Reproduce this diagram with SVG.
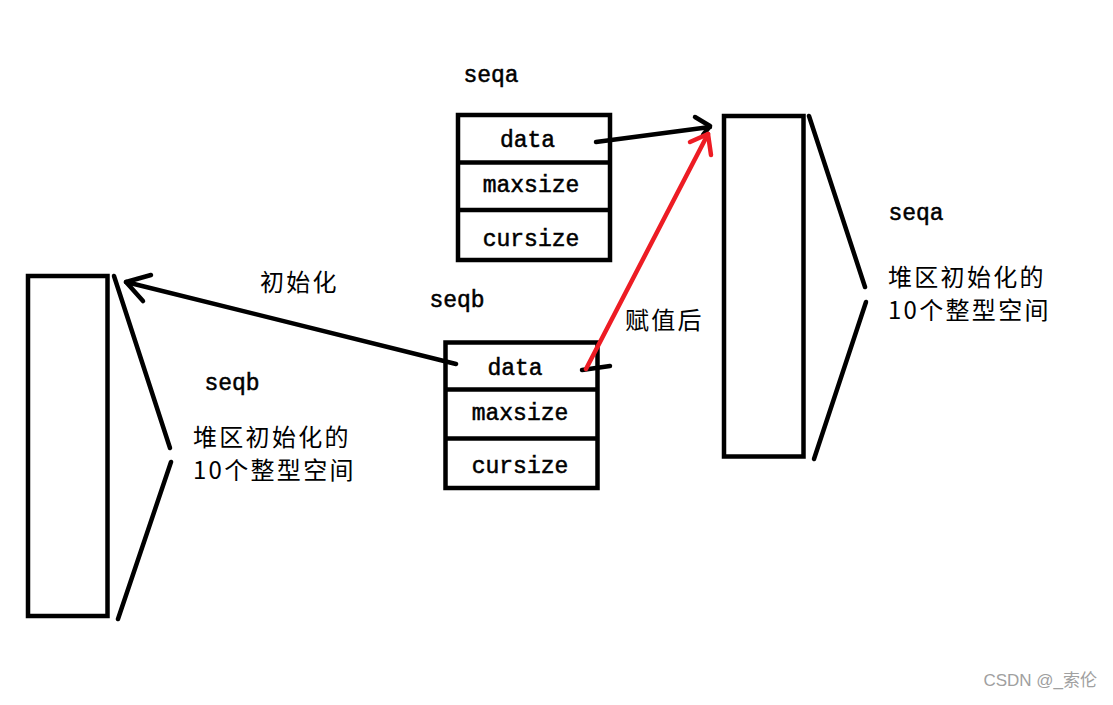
<svg xmlns="http://www.w3.org/2000/svg" width="1113" height="705" viewBox="0 0 1113 705">
<style>
.box{fill:#fff;stroke:#000;stroke-width:4.5}
.div{stroke:#000;stroke-width:4.5}
.ln{fill:none;stroke:#000;stroke-width:4.5;stroke-linecap:round;stroke-linejoin:round}
.red{fill:none;stroke:#ED1C24;stroke-width:4.5;stroke-linecap:round;stroke-linejoin:round}
.mono{font-family:"Liberation Mono",monospace;font-size:23px;fill:#000;stroke:#000;stroke-width:0.5}
.cjk{font-family:"Noto Sans CJK SC",sans-serif;font-size:24px;letter-spacing:2.3px;fill:#000}
.wm{font-family:"Liberation Sans","Noto Sans CJK SC",sans-serif;font-size:17px;fill:#a0a0a0}
</style>
<rect width="1113" height="705" fill="#fff"/>
<g id="seqa-struct">
<rect class="box" x="458" y="115" width="152" height="145"/>
<line class="div" x1="458" y1="162.5" x2="610" y2="162.5"/>
<line class="div" x1="458" y1="210" x2="610" y2="210"/>
<text class="mono" x="527.5" y="147" text-anchor="middle">data</text>
<text class="mono" x="531" y="192" text-anchor="middle">maxsize</text>
<text class="mono" x="531" y="246" text-anchor="middle">cursize</text>
<text class="mono" x="491" y="82" text-anchor="middle" font-size="22">seqa</text>
</g>
<g id="seqb-struct">
<rect class="box" x="445.5" y="342.5" width="152" height="145.5"/>
<line class="div" x1="445.5" y1="389.5" x2="597.5" y2="389.5"/>
<line class="div" x1="445.5" y1="438.5" x2="597.5" y2="438.5"/>
<text class="mono" x="515" y="375" text-anchor="middle">data</text>
<text class="mono" x="520" y="420" text-anchor="middle">maxsize</text>
<text class="mono" x="520" y="473" text-anchor="middle">cursize</text>
<text class="mono" x="457" y="307" text-anchor="middle" font-size="22">seqb</text>
</g>
<g id="heap-b">
<rect class="box" x="28" y="276" width="79.5" height="340"/>
<polyline class="ln" points="114,276 170,448"/>
<polyline class="ln" points="171,462 118,619"/>
<text class="mono" x="232" y="390" text-anchor="middle" font-size="22">seqb</text>
<text class="cjk" x="193" y="446">堆区初始化的</text>
<text class="cjk" x="193" y="479">10个整型空间</text>
</g>
<g id="heap-a">
<rect class="box" x="724" y="116" width="79.5" height="340.5"/>
<polyline class="ln" points="809,116 865,287"/>
<polyline class="ln" points="866,302 814,459"/>
<text class="mono" x="916" y="220" text-anchor="middle" font-size="22">seqa</text>
<text class="cjk" x="888" y="286">堆区初始化的</text>
<text class="cjk" x="888" y="319">10个整型空间</text>
</g>
<g id="connectors">
<line class="ln" x1="456" y1="364" x2="126" y2="282"/>
<polyline class="ln" points="151,275 126,282 143,301"/>
<line class="ln" x1="596" y1="142" x2="710" y2="127"/>
<polyline class="ln" points="695,117 710,126 703,135"/>
<line class="ln" x1="582" y1="370" x2="610" y2="366"/>
<line class="red" x1="586" y1="369" x2="708" y2="134"/>
<polyline class="red" points="690,142 708,134 711,155"/>
<text class="cjk" x="260" y="291">初始化</text>
<text class="cjk" x="625" y="329">赋值后</text>
</g>
<text class="wm" x="1097" y="686" text-anchor="end">CSDN @_索伦</text>
</svg>
